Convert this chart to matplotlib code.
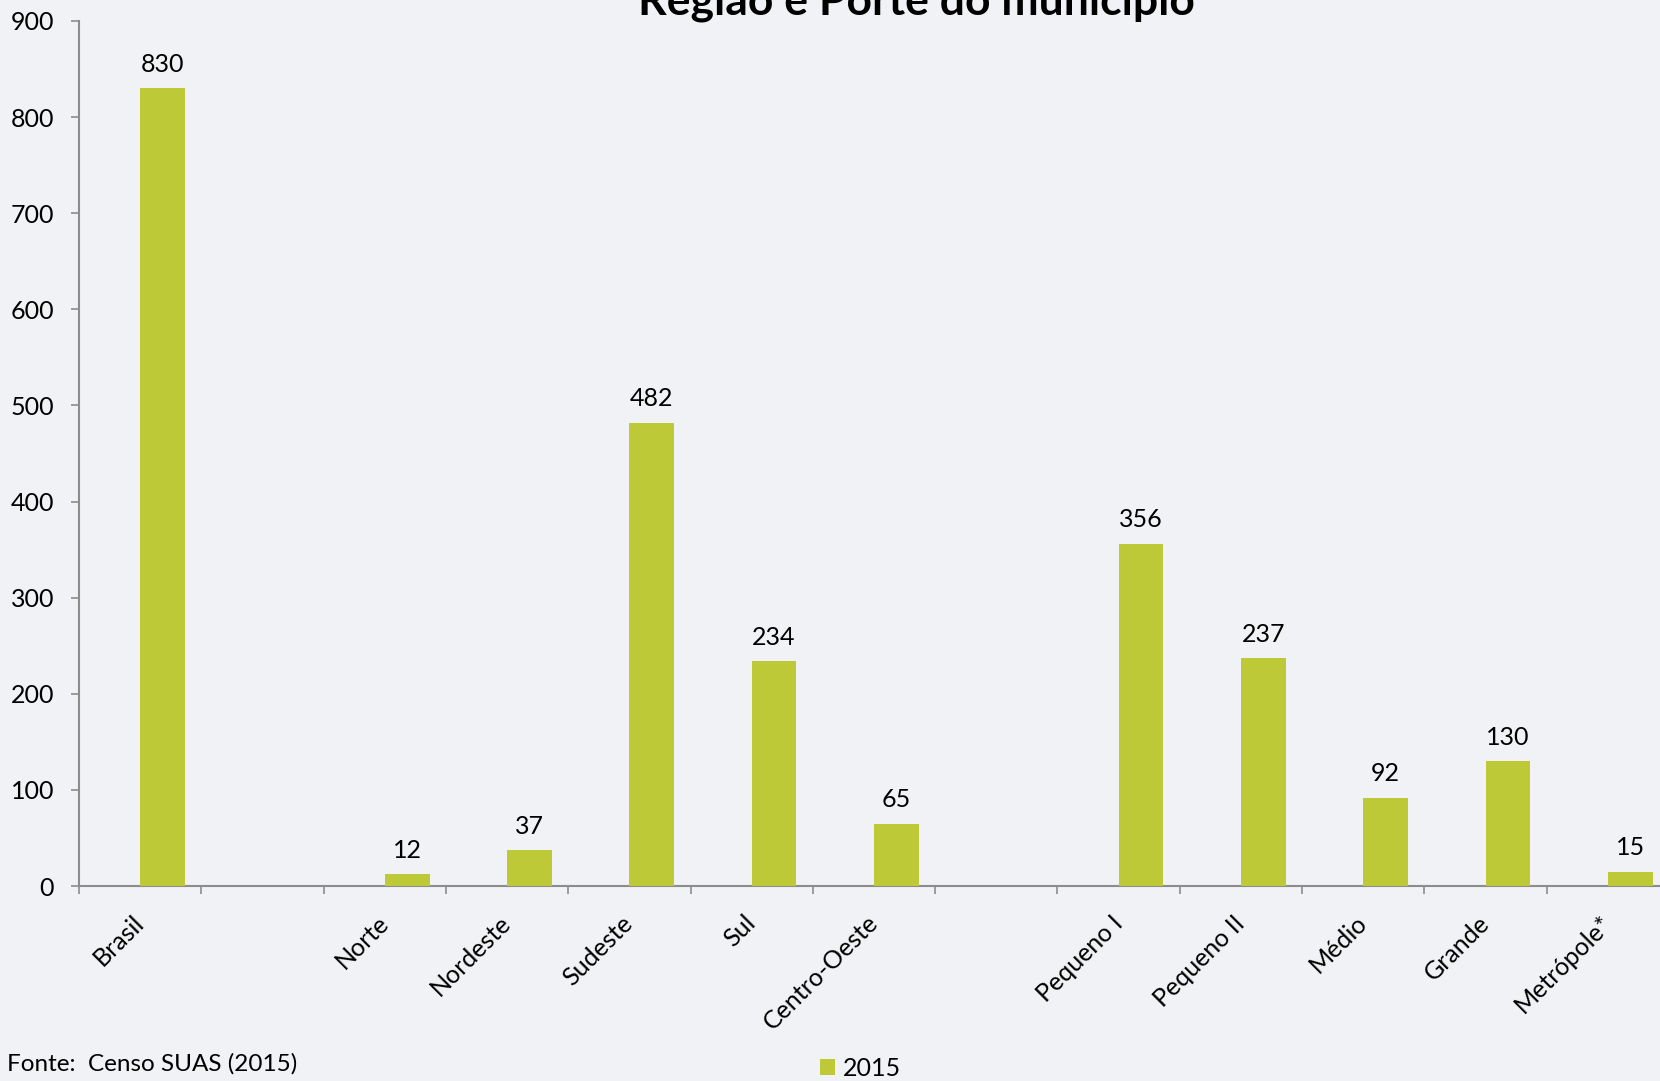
import matplotlib
matplotlib.use("Agg")
import matplotlib.pyplot as plt
import numpy as np

plt.rcParams["font.family"] = ["Lato", "DejaVu Sans"]

# Categorias: Brasil, regiões e porte do município (posições vazias separam os grupos)
categorias = ["Brasil", "", "Norte", "Nordeste", "Sudeste", "Sul", "Centro-Oeste", "",
              "Pequeno I", "Pequeno II", "Médio", "Grande", "Metrópole*"]
valores_2015 = [830, None, 12, 37, 482, 234, 65, None, 356, 237, 92, 130, 15]
yticks = [0, 100, 200, 300, 400, 500, 600, 700, 800, 900]

titulo = "Região e Porte do município"
fonte = "Fonte:  Censo SUAS (2015)"

cor_barra = "#BDC936"
cor_fundo = "#F1F2F5"
cor_eixo = "#8C8C8C"

fig = plt.figure(figsize=(16.6, 10.81), dpi=100, facecolor=cor_fundo)
ax = fig.add_axes([79 / 1660, 1 - 886 / 1081, 1590 / 1660, 865 / 1081])
ax.set_facecolor(cor_fundo)

n = len(categorias)
largura = 0.366
centros = np.arange(n) + 0.5
idx = [i for i, v in enumerate(valores_2015) if v is not None]
vals = [valores_2015[i] for i in idx]
xs = centros[idx] + largura / 2

barras = ax.bar(xs, vals, width=largura, color=cor_barra, label="2015", zorder=3)
for x, v in zip(xs, vals):
    ax.annotate(str(v), (x, v), xytext=(0, 9), textcoords="offset points",
                ha="center", va="bottom", fontsize=18, color="black")

ax.set_xlim(0, n)
ax.set_ylim(0, 900)
ax.set_yticks(yticks)
ax.tick_params(axis="y", length=6, width=1.2, color=cor_eixo, pad=12, labelsize=18)

ax.set_xticks(np.arange(n + 1))
ax.set_xticklabels([])
ax.set_xticks(centros, minor=True)
ax.set_xticklabels(categorias, minor=True, rotation=45, ha="right", va="center",
                   rotation_mode="anchor", fontsize=18)
ax.tick_params(axis="x", which="major", direction="out", length=6, width=1.2, color=cor_eixo)
ax.tick_params(axis="x", which="minor", length=0, pad=24)

for lado in ["top", "right"]:
    ax.spines[lado].set_visible(False)
for lado in ["left", "bottom"]:
    ax.spines[lado].set_color(cor_eixo)
    ax.spines[lado].set_linewidth(1.5)

fig.text(916 / 1660, 1 - 15 / 1081, titulo, ha="center", va="baseline",
         fontsize=32, fontweight="bold")
fig.text(7 / 1660, 1 - 1071 / 1081, fonte, ha="left", va="baseline", fontsize=17.5)

fig.legend(handles=[barras], labels=["2015"], loc="lower left",
           bbox_to_anchor=(805 / 1660, -0.013), frameon=False, fontsize=18,
           handlelength=0.6, handleheight=0.6, handletextpad=0.3, borderpad=0.1)

fig.savefig("out.png", dpi=100, facecolor=cor_fundo)
